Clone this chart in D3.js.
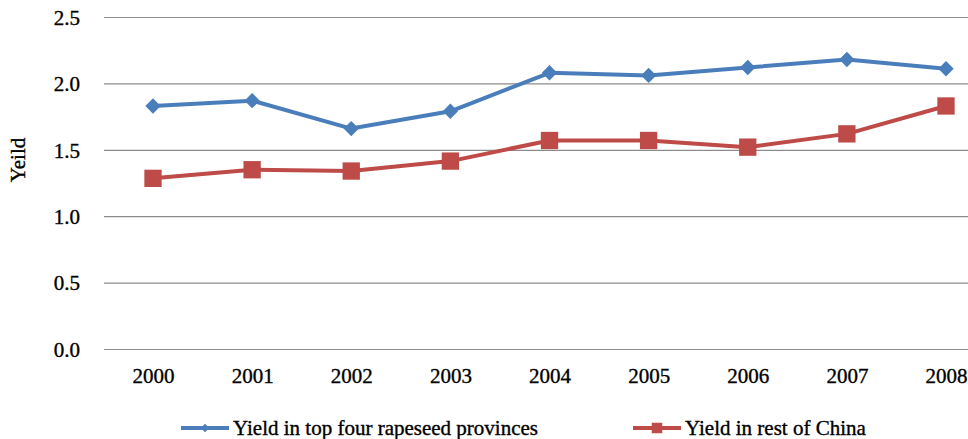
<!DOCTYPE html>
<html><head><meta charset="utf-8">
<script src="https://cdn.jsdelivr.net/npm/d3@7"></script>
<style>body{margin:0;background:#fff}svg{display:block}</style>
</head><body>
<script>
const years = ["2000","2001","2002","2003","2004","2005","2006","2007","2008"];
const topFour = [1.83,1.87,1.66,1.79,2.08,2.06,2.12,2.18,2.11];
const restChina = [1.285,1.35,1.34,1.415,1.57,1.57,1.52,1.62,1.83];
const yTicks = [0,0.5,1.0,1.5,2.0,2.5];
const seriesNames = ["Yield in top four rapeseed provinces","Yield in rest of China"];
const colors = ["#4A7EBB","#BE4B48"];

const W=968,H=439;
const svg=d3.select("body").append("svg").attr("width",W).attr("height",H);
const x=d3.scalePoint().domain(years).range([153,946]);
const y=d3.scaleLinear().domain([0,2.5]).range([349,17]);
const font="'Liberation Serif','Times New Roman',serif";
const txt=sel=>sel.attr("font-family",font).attr("font-size",21).attr("font-weight","normal").attr("fill","#000")
  .attr("stroke","#000").attr("stroke-width",0.35);

const yAxis=d3.axisLeft(y).tickValues(yTicks).tickFormat(d3.format(".1f")).tickSize(-(W-104)).tickPadding(24);
const gy=svg.append("g").attr("transform","translate(104,0)").call(yAxis);
gy.select(".domain").remove();
gy.selectAll(".tick line").attr("stroke","#8c8c8c").attr("stroke-width",1.2);
gy.selectAll(".tick text").call(txt).attr("dy","0.35em");

const xAxis=d3.axisBottom(x).tickSize(0).tickPadding(19);
const gx=svg.append("g").attr("transform","translate(0,349)").call(xAxis);
gx.select(".domain").remove();
gx.selectAll(".tick text").call(txt);

svg.append("text").attr("transform","translate(25,160) rotate(-90)").attr("text-anchor","middle").call(txt).text("Yeild");

const line=d3.line().x((d,i)=>x(years[i])).y(d=>y(d));
const diamond=d3.symbol().type(d3.symbolDiamond2).size(150);
const square=d3.symbol().type(d3.symbolSquare).size(300);

function series(vals,color,sym){
  svg.append("path").datum(vals).attr("d",line).attr("fill","none").attr("stroke",color).attr("stroke-width",4).attr("stroke-linejoin","round");
  svg.selectAll(null).data(vals).enter().append("path").attr("d",sym)
    .attr("transform",(d,i)=>`translate(${x(years[i])},${y(d)})`).attr("fill",color);
}
series(topFour,colors[0],diamond);
series(restChina,colors[1],square);

const leg=[{x0:181,name:seriesNames[0],c:colors[0],s:d3.symbol().type(d3.symbolDiamond2).size(45)},
           {x0:633,name:seriesNames[1],c:colors[1],s:d3.symbol().type(d3.symbolSquare).size(110)}];
const lg=svg.selectAll(".leg").data(leg).enter().append("g").attr("transform",d=>`translate(${d.x0},428)`);
lg.append("line").attr("x1",0).attr("x2",48).attr("stroke",d=>d.c).attr("stroke-width",4);
lg.append("path").attr("d",d=>d.s()).attr("transform","translate(24,0)").attr("fill",d=>d.c);
lg.append("text").attr("x",52).attr("dy","0.35em").call(txt).text(d=>d.name);
</script>
</body></html>
